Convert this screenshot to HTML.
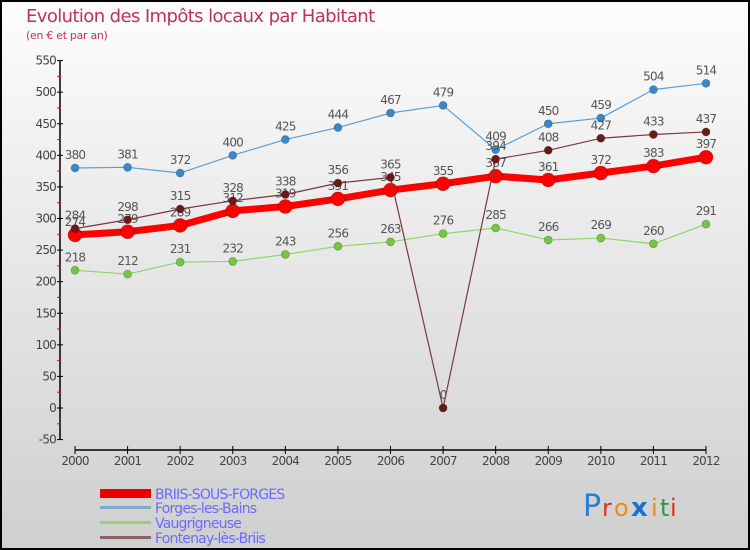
<!DOCTYPE html>
<html><head><meta charset="utf-8"><style>
html,body{margin:0;padding:0}
body{width:750px;height:550px;overflow:hidden;font-family:"DejaVu Sans","Liberation Sans",sans-serif}
svg{display:block}
</style></head><body>
<svg id="chart" width="750" height="550" xmlns="http://www.w3.org/2000/svg">
<defs>
<linearGradient id="bg" x1="0" y1="0" x2="0" y2="1">
<stop offset="0" stop-color="#fdfdfd"/><stop offset="1" stop-color="#cfcfcf"/>
</linearGradient>
</defs>
<rect x="1" y="1" width="748" height="548" fill="url(#bg)" stroke="#000" stroke-width="2"/>
<text x="26" y="22" font-size="18" fill="#c0305a" letter-spacing="-0.6" font-family="DejaVu Sans, sans-serif">Evolution des Impôts locaux par Habitant</text>
<text x="26" y="39" font-size="11" fill="#c0305a" letter-spacing="-0.3">(en € et par an)</text>
<g id="axes"></g>
<g id="series"></g>
<g id="legend">
<rect x="100" y="489" width="51" height="9" fill="#e00"/>
<text x="155" y="499" font-size="14" fill="#6a6aff" letter-spacing="-0.8">BRIIS-SOUS-FORGES</text>
<rect x="100" y="506" width="51" height="3" fill="#7ea7c8"/>
<text x="155" y="513" font-size="14" fill="#6a6aff" letter-spacing="-0.8">Forges-les-Bains</text>
<rect x="100" y="521" width="51" height="3" fill="#9acf78"/>
<text x="155" y="528" font-size="14" fill="#6a6aff" letter-spacing="-0.8">Vaugrigneuse</text>
<rect x="100" y="536" width="51" height="3" fill="#8a6464"/>
<text x="155" y="543" font-size="14" fill="#6a6aff" letter-spacing="-0.8">Fontenay-lès-Briis</text>
</g>
<g font-size="30" font-family="DejaVu Sans, sans-serif">
<text x="583" y="516" fill="#2a7fd0">P</text><text x="602" y="516" fill="#e0301a" font-size="24">r</text><text x="614" y="516" fill="#f08a10" font-size="24">o</text><text x="631" y="516" fill="#1a6fd0" font-weight="bold" font-size="26">x</text><text x="651" y="516" fill="#f08a10" font-size="24">i</text><text x="660" y="516" fill="#20a040" font-size="24">t</text><text x="670" y="516" fill="#e0301a" font-size="24">i</text>
</g>
</svg>
<script>
const years=[2000,2001,2002,2003,2004,2005,2006,2007,2008,2009,2010,2011,2012];
const briis=[274,279,289,312,319,331,345,355,367,361,372,383,397];
const forges=[380,381,372,400,425,444,467,479,409,450,459,504,514];
const vaug=[218,212,231,232,243,256,263,276,285,266,269,260,291];
const fontenay=[284,298,315,328,338,356,365,0,394,408,427,433,437];
const yTicks=[-50,0,50,100,150,200,250,300,350,400,450,500,550];
const NS="http://www.w3.org/2000/svg";
function xs(i){return 75+i*(706-75)/12;}
function ys(v){return 408-v*(379/600);}
function mk(tag,attrs,parent){const e=document.createElementNS(NS,tag);for(const k in attrs)e.setAttribute(k,attrs[k]);parent.appendChild(e);return e;}
const ax=document.getElementById('axes');
let yl=mk('line',{x1:60,y1:ys(550),x2:60,y2:ys(-50),stroke:'#000','stroke-width':1.5},ax);


yTicks.forEach(v=>{
  let t=mk('line',{x1:57,x2:63,y1:ys(v),y2:ys(v),stroke:'#000'},ax);
  
  
  if(v<550){
  let m=mk('line',{x1:57,x2:61,y1:ys(v+25),y2:ys(v+25),stroke:'#f00'},ax);
  
  
  }
  let l=mk('text',{x:56,y:ys(v)+4,'text-anchor':'end','font-size':12,fill:'#444','letter-spacing':'-0.8'},ax);
  l.textContent=v;
  
  
});
let xl=mk('line',{x1:75,y1:450,x2:706,y2:450,stroke:'#000','stroke-width':1.5},ax);


years.forEach((y,i)=>{
  let t=mk('line',{x1:xs(i),x2:xs(i),y1:446,y2:454,stroke:'#000'},ax);
  
  
  let l=mk('text',{x:xs(i),y:465,'text-anchor':'middle','font-size':12,fill:'#444','letter-spacing':'-0.8'},ax);
  l.textContent=y;
  
  
});
const sg=document.getElementById('series');
function series(name,data,color,lw,dotFill,r){
  const g=mk('g',{},sg);
  
  
  const p=mk('polyline',{points:data.map((v,i)=>xs(i)+','+ys(v)).join(' '),fill:'none',stroke:color,'stroke-width':lw,'stroke-linejoin':'round'},g);
  
  
  data.forEach((v,i)=>{
    const c=mk('circle',{cx:xs(i),cy:ys(v),r:r,fill:dotFill,stroke:'rgba(0,0,0,0.25)','stroke-width':0.8},g);
    
    
    const t=mk('text',{x:xs(i),y:ys(v)-9,'text-anchor':'middle','font-size':12,fill:'#555','letter-spacing':'-0.8'},g);
    t.textContent=v;
    
    
  });
}
series('forges',forges,'#5a9fd4',1.2,'#3a88c8',4);
series('vaugrigneuse',vaug,'#8fd66a',1.2,'#72c840',4);
series('briis',briis,'#f00',7,'#f00',7);
series('fontenay',fontenay,'#7a3a3a',1.2,'#6a1a1a',4);
</script>
</body></html>
